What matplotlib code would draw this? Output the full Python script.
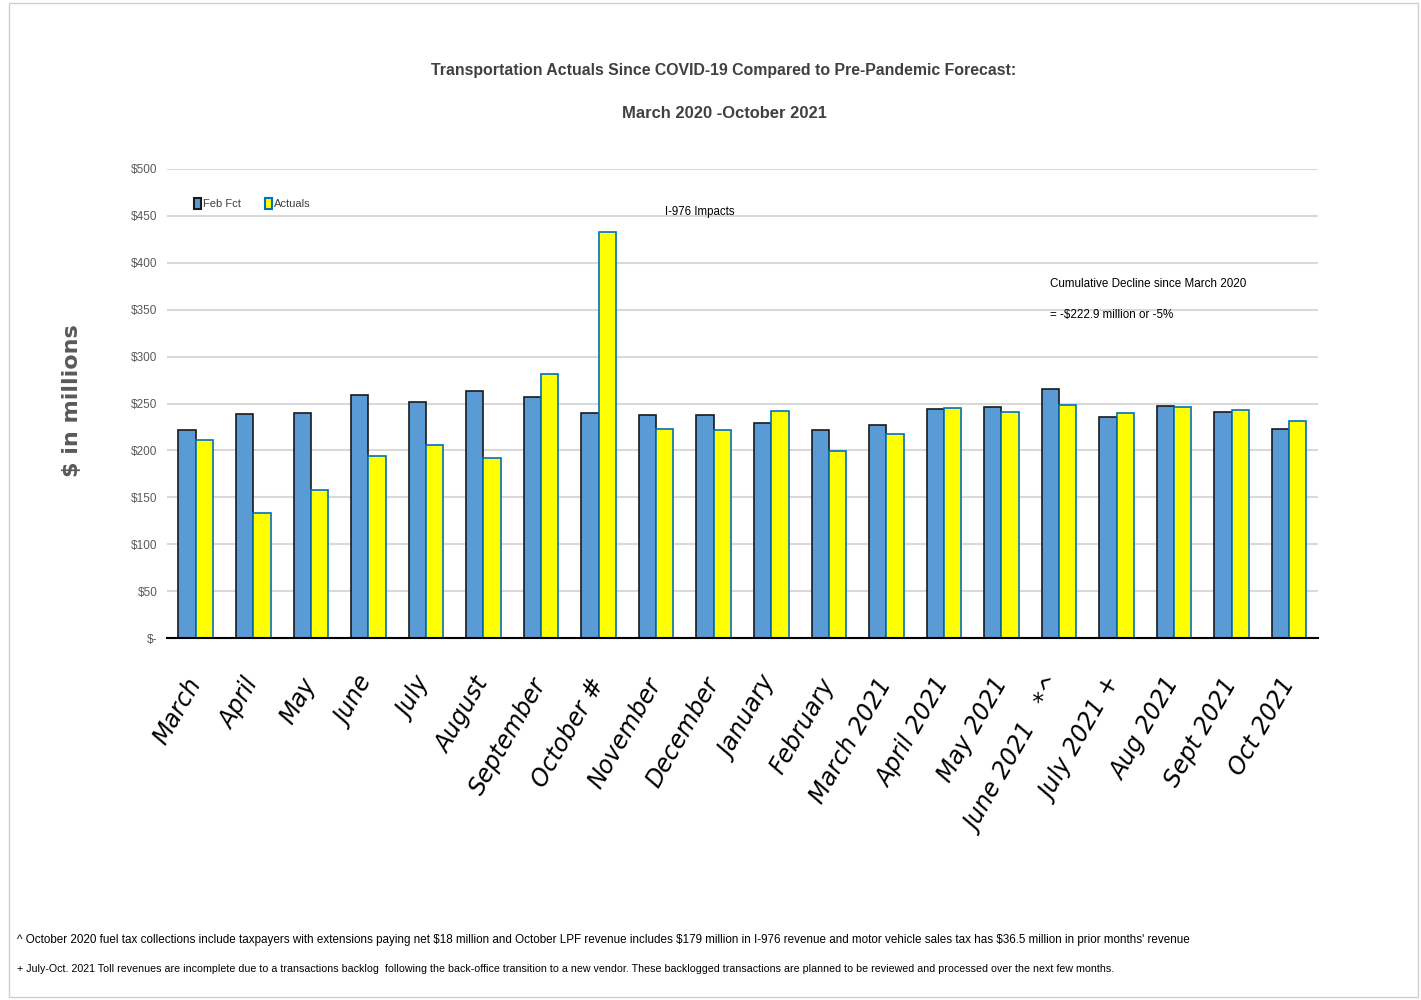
import matplotlib
matplotlib.use("Agg")
import matplotlib.pyplot as plt
import numpy as np
from matplotlib.patches import Rectangle, Patch

months = ["March", "April", "May", "June", "July", "August", "September",
          "October #", "November", "December", "January", "February",
          "March 2021", "April 2021", "May 2021", "June 2021   *^",
          "July 2021 +", "Aug 2021", "Sept 2021", "Oct 2021"]
feb_fct = [222, 239, 240, 259, 252, 263, 257, 240, 238, 238,
           229, 222, 227, 244, 246, 265, 236, 247, 241, 223]
actuals = [211, 133, 158, 194, 206, 192, 281, 433, 223, 222,
           242, 199, 217, 245, 241, 248, 240, 246, 243, 231]
yticks = [0, 50, 100, 150, 200, 250, 300, 350, 400, 450, 500]
ytick_labels = ["$-", "$50", "$100", "$150", "$200", "$250", "$300",
                "$350", "$400", "$450", "$500"]

title1 = "Transportation Actuals Since COVID-19 Compared to Pre-Pandemic Forecast:"
title2 = "March 2020 -October 2021"
footnote1 = ("^ October 2020 fuel tax collections include taxpayers with extensions paying net $18 million "
             "and October LPF revenue includes $179 million in I-976 revenue and motor vehicle sales tax "
             "has $36.5 million in prior months' revenue")
footnote2 = ("+ July-Oct. 2021 Toll revenues are incomplete due to a transactions backlog  following the "
             "back-office transition to a new vendor. These backlogged transactions are planned to be "
             "reviewed and processed over the next few months.")

font = ["Liberation Sans", "DejaVu Sans"]
blue = "#5b9bd5"
yellow = "#ffff00"

fig = plt.figure(figsize=(14.21, 10), dpi=100)
fig.patches.append(Rectangle((0.006, 0.003), 0.992, 0.994, transform=fig.transFigure,
                             fill=False, edgecolor="#d0d0d0", linewidth=1))
ax = fig.add_axes([0.1175, 0.362, 0.81, 0.469])

x = np.arange(len(months))
w = 0.3
ax.bar(x - w / 2, feb_fct, w, color=blue, edgecolor="#1a1a1a", linewidth=1.2, zorder=3)
ax.bar(x + w / 2, actuals, w, color=yellow, edgecolor="#0070c0", linewidth=1.2, zorder=3)

ax.set_xlim(-0.5, len(months) - 0.5)
ax.set_ylim(0, 500)
ax.set_yticks(yticks)
ax.set_yticklabels(ytick_labels, family=font, fontsize=8.5, color="#595959")
ax.set_xticks(x)
ax.set_xticklabels(months, rotation=60, ha="right", rotation_mode="anchor",
                   fontsize=17, style="italic", family=["DejaVu Sans"])
plt.setp(ax.get_xticklabels(), va="center")
ax.tick_params(axis="both", length=0)
ax.tick_params(axis="y", pad=7)
ax.tick_params(axis="x", pad=30)
ax.grid(axis="y", color="#d9d9d9", linewidth=1.5, zorder=0)
ax.set_axisbelow(True)
for s in ["top", "right", "left"]:
    ax.spines[s].set_visible(False)
ax.spines["bottom"].set_linewidth(1.5)
ax.spines["bottom"].set_zorder(4)

ax.set_ylabel("$ in millions", fontsize=16, fontweight="bold", color="#595959")
ax.yaxis.set_label_coords(-0.074, 0.507)

handles = [Patch(facecolor=blue, edgecolor="#1a1a1a", linewidth=1.5),
           Patch(facecolor=yellow, edgecolor="#0070c0", linewidth=1.5)]
ax.legend(handles, ["Feb Fct", "Actuals"], loc="upper left", bbox_to_anchor=(0.015, 0.96),
          ncol=2, frameon=False, handlelength=0.6, handleheight=1.2, handletextpad=0.2,
          columnspacing=2.2, prop={"family": font, "size": 8}, labelcolor="#404040")

# texts: (text object, target width in pixels, as measured on the reference)
fitted = []
fitted.append((ax.text(8.15, 454, "I-976 Impacts", fontsize=12, family=font,
                       va="center", ha="left"), 70))
fitted.append((ax.text(14.84, 377, "Cumulative Decline since March 2020", fontsize=12,
                       family=font, va="center", ha="left"), 195))
fitted.append((ax.text(14.84, 344, "= -$222.9 million or -5%", fontsize=12, family=font,
                       va="center", ha="left"), 124))
fitted.append((fig.text(0.5095, 0.93, title1, ha="center", va="center", fontsize=18,
                        fontweight="bold", color="#404040", family=font), 584))
fitted.append((fig.text(0.5095, 0.887, title2, ha="center", va="center", fontsize=18,
                        fontweight="bold", color="#404040", family=font), 204))
fitted.append((fig.text(0.012, 0.06, footnote1, fontsize=10, family=font,
                        va="center", ha="left"), 1171))
fitted.append((fig.text(0.012, 0.031, footnote2, fontsize=10, family=font,
                        va="center", ha="left"), 1082))

renderer = fig.canvas.get_renderer()
for t, target in fitted:
    width = t.get_window_extent(renderer).width
    t.set_fontsize(t.get_fontsize() * target / width)

fig.savefig("out.png", dpi=100)
